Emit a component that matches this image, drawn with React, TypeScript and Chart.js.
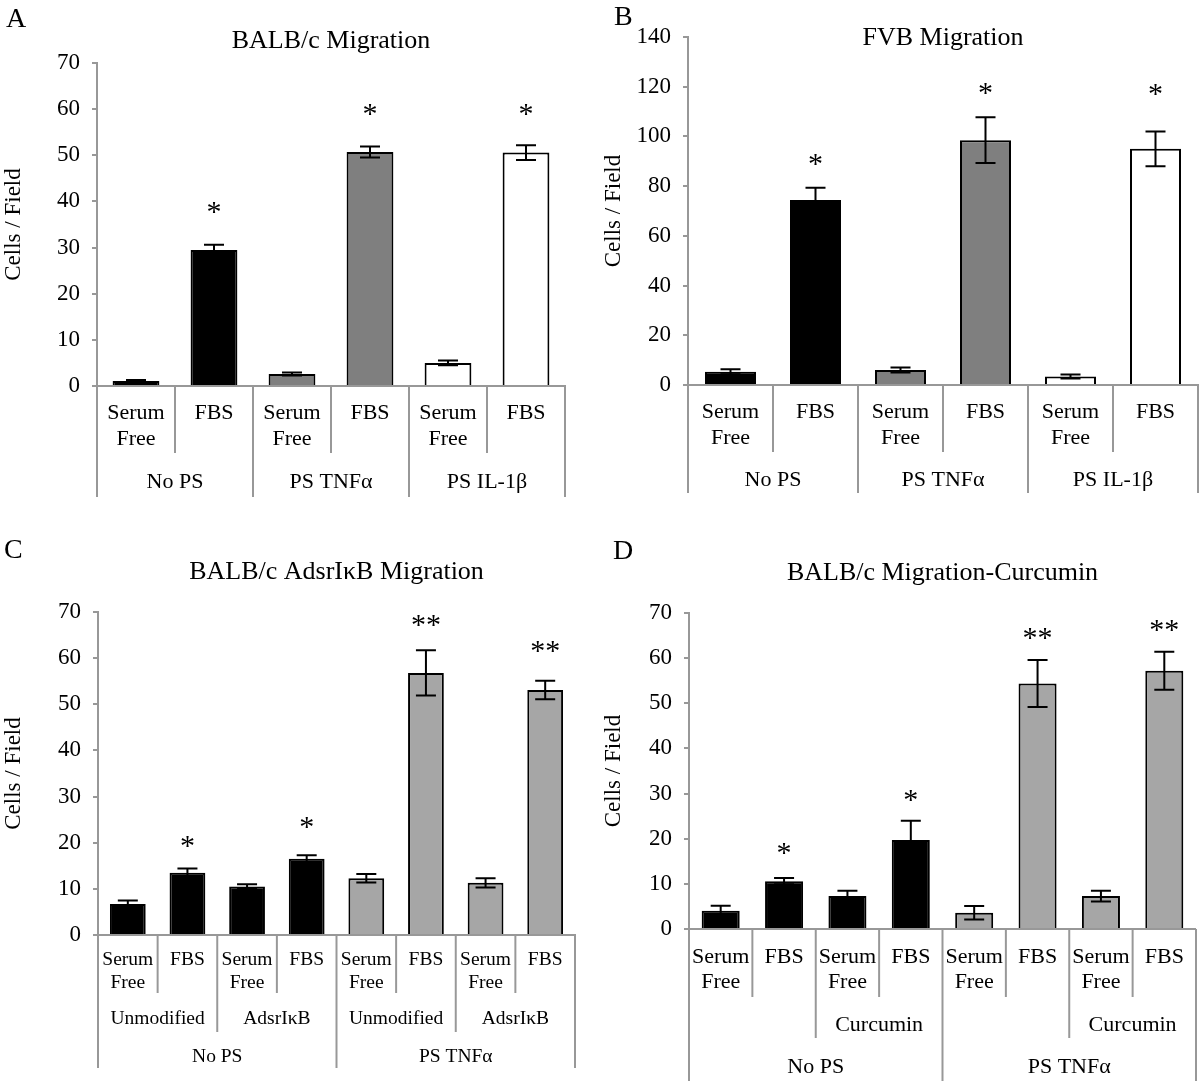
import React, { useEffect, useRef } from 'react';
import { Chart, registerables } from 'chart.js';

Chart.register(...registerables);

const FONT = '"Liberation Serif", "Times New Roman", serif';
const AXIS_GRAY = '#989898';

// ---------- Panel A : BALB/c Migration ----------
const A_categories = [['Serum', 'Free'], 'FBS', ['Serum', 'Free'], 'FBS', ['Serum', 'Free'], 'FBS'];
const A_groups = ['No PS', 'PS TNFα', 'PS IL-1β'];
const A_values = [1.1, 29.5, 2.6, 50.7, 5.0, 50.6];
const A_errors = [0.2, 1.1, 0.3, 1.2, 0.5, 1.6];
const A_stars = ['', '*', '', '*', '', '*'];
const A_starLevels = [0, 38.9, 0, 60, 0, 60];
const A_yMax = 70;
const A_yStep = 10;

// ---------- Panel B : FVB Migration ----------
const B_categories = [['Serum', 'Free'], 'FBS', ['Serum', 'Free'], 'FBS', ['Serum', 'Free'], 'FBS'];
const B_groups = ['No PS', 'PS TNFα', 'PS IL-1β'];
const B_values = [5.3, 74.4, 6.0, 98.5, 3.4, 95.0];
const B_errors = [1.0, 5.0, 1.0, 9.2, 0.8, 7.0];
const B_stars = ['', '*', '', '*', '', '*'];
const B_starLevels = [0, 90.8, 0, 119.7, 0, 119.3];
const B_yMax = 140;
const B_yStep = 20;

// ---------- Panel C : BALB/c AdsrIκB Migration ----------
const C_categories = [['Serum', 'Free'], 'FBS', ['Serum', 'Free'], 'FBS', ['Serum', 'Free'], 'FBS', ['Serum', 'Free'], 'FBS'];
const C_subgroups = ['Unmodified', 'AdsrIκB', 'Unmodified', 'AdsrIκB'];
const C_groups = ['No PS', 'PS TNFα'];
const C_values = [6.7, 13.5, 10.5, 16.5, 12.3, 56.8, 11.3, 53.1];
const C_errors = [0.8, 0.9, 0.5, 0.8, 0.9, 4.9, 1.0, 2.0];
const C_stars = ['', '*', '', '*', '', '**', '', '**'];
const C_starLevels = [0, 20.4, 0, 24.6, 0, 68.3, 0, 62.6];
const C_yMax = 70;
const C_yStep = 10;

// ---------- Panel D : BALB/c Migration-Curcumin ----------
const D_categories = [['Serum', 'Free'], 'FBS', ['Serum', 'Free'], 'FBS', ['Serum', 'Free'], 'FBS', ['Serum', 'Free'], 'FBS'];
const D_subgroups = ['', 'Curcumin', '', 'Curcumin'];
const D_groups = ['No PS', 'PS TNFα'];
const D_values = [4.05, 10.6, 7.3, 19.7, 3.6, 54.4, 7.3, 57.2];
const D_errors = [1.1, 0.7, 1.2, 4.3, 1.5, 5.2, 1.2, 4.2];
const D_stars = ['', '*', '', '*', '', '**', '', '**'];
const D_starLevels = [0, 17.9, 0, 29.7, 0, 65.6, 0, 67.3];
const D_yMax = 70;
const D_yStep = 10;

const BLACK = '#000000';
const GRAY_DARK = '#7f7f7f';
const WHITE = '#ffffff';
const GRAY_LIGHT = '#a6a6a6';

type Level = { labels: string[]; span: number };

type PanelCfg = {
  letter: string;
  title: string;
  categories: (string | string[])[];
  levels: Level[];
  values: number[];
  errors: number[];
  stars: string[];
  starLevels: number[];
  colors: string[];
  yMax: number;
  yStep: number;
  box: { left: number; top: number; width: number; height: number };
  padTop: number;
  padRight: number;
  yWidth: number;
  xHeight: number;
  labelFont: number;
  labelPad: number;
  labelLineHeight: number;
  sepDepths: number[];
  levelLabelY: number[];
  titleY: number;
  letterX: number;
  letterY: number;
};

const panels: PanelCfg[] = [
  {
    letter: 'A',
    title: 'BALB/c Migration',
    categories: A_categories,
    levels: [{ labels: A_groups, span: 2 }],
    values: A_values,
    errors: A_errors,
    stars: A_stars,
    starLevels: A_starLevels,
    colors: [BLACK, BLACK, GRAY_DARK, GRAY_DARK, WHITE, WHITE],
    yMax: A_yMax,
    yStep: A_yStep,
    box: { left: 0, top: 0, width: 600, height: 540 },
    padTop: 63,
    padRight: 35,
    yWidth: 97,
    xHeight: 154,
    labelFont: 22,
    labelPad: 15,
    labelLineHeight: 1.15,
    sepDepths: [67, 111],
    levelLabelY: [96],
    titleY: 48,
    letterX: 6,
    letterY: 27,
  },
  {
    letter: 'B',
    title: 'FVB Migration',
    categories: B_categories,
    levels: [{ labels: B_groups, span: 2 }],
    values: B_values,
    errors: B_errors,
    stars: B_stars,
    starLevels: B_starLevels,
    colors: [BLACK, BLACK, GRAY_DARK, GRAY_DARK, WHITE, WHITE],
    yMax: B_yMax,
    yStep: B_yStep,
    box: { left: 600, top: 0, width: 600, height: 540 },
    padTop: 37,
    padRight: 2,
    yWidth: 88,
    xHeight: 155,
    labelFont: 22,
    labelPad: 15,
    labelLineHeight: 1.15,
    sepDepths: [67, 108],
    levelLabelY: [95],
    titleY: 45,
    letterX: 14,
    letterY: 25,
  },
  {
    letter: 'C',
    title: 'BALB/c AdsrIκB Migration',
    categories: C_categories,
    levels: [
      { labels: C_subgroups, span: 2 },
      { labels: C_groups, span: 4 },
    ],
    values: C_values,
    errors: C_errors,
    stars: C_stars,
    starLevels: C_starLevels,
    colors: [BLACK, BLACK, BLACK, BLACK, GRAY_LIGHT, GRAY_LIGHT, GRAY_LIGHT, GRAY_LIGHT],
    yMax: C_yMax,
    yStep: C_yStep,
    box: { left: 0, top: 540, width: 600, height: 541 },
    padTop: 72,
    padRight: 25,
    yWidth: 98,
    xHeight: 146,
    labelFont: 19.5,
    labelPad: 13,
    labelLineHeight: 1.18,
    sepDepths: [58, 97, 133],
    levelLabelY: [84, 122],
    titleY: 39,
    letterX: 4,
    letterY: 18,
  },
  {
    letter: 'D',
    title: 'BALB/c Migration-Curcumin',
    categories: D_categories,
    levels: [
      { labels: D_subgroups, span: 2 },
      { labels: D_groups, span: 4 },
    ],
    values: D_values,
    errors: D_errors,
    stars: D_stars,
    starLevels: D_starLevels,
    colors: [BLACK, BLACK, BLACK, BLACK, GRAY_LIGHT, GRAY_LIGHT, GRAY_LIGHT, GRAY_LIGHT],
    yMax: D_yMax,
    yStep: D_yStep,
    box: { left: 600, top: 540, width: 600, height: 541 },
    padTop: 73,
    padRight: 2,
    yWidth: 89,
    xHeight: 152,
    labelFont: 22,
    labelPad: 16,
    labelLineHeight: 1.12,
    sepDepths: [68, 109, 160],
    levelLabelY: [96, 138],
    titleY: 40,
    letterX: 13,
    letterY: 19,
  },
];

function makeOverlay(cfg: PanelCfg) {
  return {
    id: 'overlay' + cfg.letter,
    afterDatasetsDraw(chart: any) {
      const ctx = chart.ctx;
      const xs = chart.scales.x;
      const ys = chart.scales.y;
      ctx.save();
      ctx.strokeStyle = '#000';
      ctx.lineWidth = 2;
      const cap = 10;
      cfg.values.forEach((v, i) => {
        const px = xs.getPixelForValue(i);
        const t = ys.getPixelForValue(v + cfg.errors[i]);
        const b = ys.getPixelForValue(Math.max(0, v - cfg.errors[i]));
        ctx.beginPath();
        ctx.moveTo(px, t);
        ctx.lineTo(px, b);
        ctx.moveTo(px - cap, t);
        ctx.lineTo(px + cap, t);
        ctx.moveTo(px - cap, b);
        ctx.lineTo(px + cap, b);
        ctx.stroke();
      });
      // significance stars
      const starSize = 30;
      ctx.fillStyle = '#000';
      ctx.font = `${starSize}px ${FONT}`;
      ctx.textAlign = 'center';
      ctx.textBaseline = 'alphabetic';
      cfg.stars.forEach((s, i) => {
        if (!s) return;
        const px = xs.getPixelForValue(i);
        const py = ys.getPixelForValue(cfg.starLevels[i]) + starSize * 0.47;
        ctx.fillText(s, px, py);
      });
      ctx.restore();
    },
    afterDraw(chart: any) {
      const ctx = chart.ctx;
      const xs = chart.scales.x;
      const area = chart.chartArea;
      const n = cfg.categories.length;
      const half = (xs.getPixelForValue(1) - xs.getPixelForValue(0)) / 2;
      const base = area.bottom;
      ctx.save();
      // separators
      ctx.strokeStyle = AXIS_GRAY;
      ctx.lineWidth = 2;
      for (let k = 0; k <= n; k++) {
        let level = 0;
        cfg.levels.forEach((lv, j) => {
          if (k % lv.span === 0) level = j + 1;
        });
        const bx = k === n ? xs.getPixelForValue(n - 1) + half : xs.getPixelForValue(k) - half;
        ctx.beginPath();
        ctx.moveTo(bx, base);
        ctx.lineTo(bx, base + cfg.sepDepths[level]);
        ctx.stroke();
      }
      // group labels
      ctx.fillStyle = '#000';
      ctx.font = `${cfg.labelFont}px ${FONT}`;
      ctx.textAlign = 'center';
      ctx.textBaseline = 'middle';
      cfg.levels.forEach((lv, j) => {
        lv.labels.forEach((lab, g) => {
          if (!lab) return;
          const i0 = g * lv.span;
          const i1 = i0 + lv.span - 1;
          const cx = (xs.getPixelForValue(i0) + xs.getPixelForValue(i1)) / 2;
          ctx.fillText(lab, cx, base + cfg.levelLabelY[j]);
        });
      });
      // title
      ctx.font = `26px ${FONT}`;
      ctx.textBaseline = 'alphabetic';
      ctx.fillText(cfg.title, (area.left + area.right) / 2, cfg.titleY);
      // panel letter
      ctx.font = `28px ${FONT}`;
      ctx.textAlign = 'left';
      ctx.fillText(cfg.letter, cfg.letterX, cfg.letterY);
      ctx.restore();
    },
  };
}

function Panel({ cfg }: { cfg: PanelCfg }) {
  const ref = useRef<HTMLCanvasElement | null>(null);
  useEffect(() => {
    if (!ref.current) return;
    const chart = new Chart(ref.current, {
      type: 'bar',
      data: {
        labels: cfg.categories as any,
        datasets: [
          {
            data: cfg.values,
            backgroundColor: cfg.colors,
            borderColor: '#000',
            borderWidth: 2,
            barPercentage: 0.6,
            categoryPercentage: 1,
          },
        ],
      },
      options: {
        responsive: false,
        maintainAspectRatio: false,
        animation: false,
        layout: { padding: { left: 0, top: cfg.padTop, right: cfg.padRight, bottom: 0 } },
        plugins: {
          legend: { display: false },
          tooltip: { enabled: false },
          title: { display: false },
        },
        scales: {
          x: {
            type: 'category',
            grid: { display: false, drawTicks: false },
            border: { display: true, color: AXIS_GRAY, width: 2 },
            ticks: {
              autoSkip: false,
              maxRotation: 0,
              minRotation: 0,
              padding: cfg.labelPad,
              color: '#000',
              font: { family: FONT, size: cfg.labelFont, lineHeight: cfg.labelLineHeight },
            },
            afterFit: (s: any) => {
              s.height = cfg.xHeight;
            },
          },
          y: {
            min: 0,
            max: cfg.yMax,
            ticks: {
              stepSize: cfg.yStep,
              padding: 12,
              color: '#000',
              font: { family: FONT, size: 23 },
            },
            grid: { drawOnChartArea: false, drawTicks: true, tickLength: 5, color: AXIS_GRAY, lineWidth: 2 },
            border: { display: true, color: AXIS_GRAY, width: 2 },
            title: {
              display: true,
              text: 'Cells / Field',
              color: '#000',
              font: { family: FONT, size: 23 },
              padding: 0,
            },
            afterFit: (s: any) => {
              s.width = cfg.yWidth;
            },
          },
        },
      } as any,
      plugins: [makeOverlay(cfg)],
    });
    return () => chart.destroy();
  }, [cfg]);
  return (
    <canvas
      ref={ref}
      width={cfg.box.width}
      height={cfg.box.height}
      style={{
        position: 'absolute',
        left: cfg.box.left,
        top: cfg.box.top,
        width: cfg.box.width,
        height: cfg.box.height,
      }}
    />
  );
}

export default function App() {
  return (
    <div
      style={{
        position: 'absolute',
        left: 0,
        top: 0,
        width: 1200,
        height: 1081,
        background: '#ffffff',
        overflow: 'hidden',
      }}
    >
      {panels.map((p) => (
        <Panel key={p.letter} cfg={p} />
      ))}
    </div>
  );
}
